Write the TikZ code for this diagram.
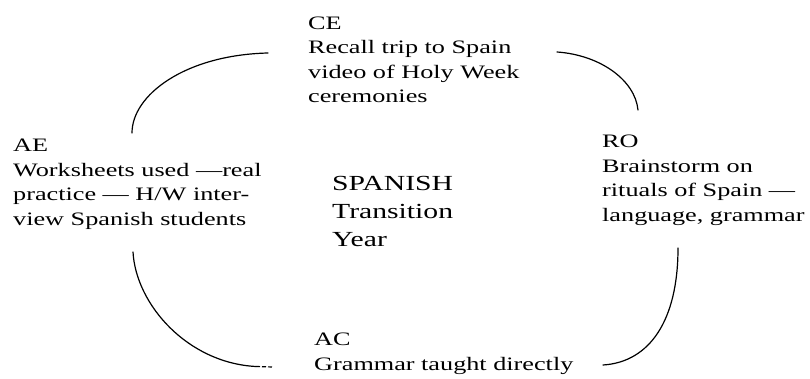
\documentclass[tikz,border=0pt]{standalone}
\usepackage{fontspec}
\setmainfont{Liberation Serif}[FakeStretch=1.38]
\newcommand{\bodyfont}{\fontsize{19}{24.5}\selectfont}
\newcommand{\titlefont}{\fontsize{21.5}{27.5}\selectfont}
\begin{document}
\begin{tikzpicture}[x=1pt,y=-1pt,
  blk/.style={anchor=base west, align=left, inner sep=0pt, font=\bodyfont},
  ttl/.style={anchor=base west, align=left, inner sep=0pt, font=\titlefont},
  arc/.style={line width=1.2pt, line cap=round}]
\useasboundingbox (0,0) rectangle (810,379);
% text blocks (anchor at baseline of the last line)
\node[blk] (ce) at (308,103) {CE\\Recall trip to Spain\\video of Holy Week\\ceremonies};
\node[blk] (ae) at (13,225.5) {AE\\Worksheets used ---real\\practice --- H/W inter-\\view Spanish students};
\node[blk] (ro) at (602,221.5) {RO\\Brainstorm on\\rituals of Spain ---\\language, grammar};
\node[blk] (ac) at (314,370) {AC\\Grammar taught directly};
\node[ttl] (mid) at (332,246) {SPANISH\\Transition\\Year};
% arc end points
\coordinate (tlA) at (132,133); \coordinate (tlB) at (268,53);
\coordinate (trA) at (557,52);  \coordinate (trB) at (638,110);
\coordinate (blA) at (133,252); \coordinate (blB) at (256,366.5); \coordinate (blC) at (273,367);
\coordinate (brA) at (678,248); \coordinate (brB) at (603,365);
% arcs
\draw[arc] (tlA) .. controls (132,95) and (185,55) .. (tlB);
\draw[arc] (trA) .. controls (600,55) and (635,80) .. (trB);
\draw[arc] (blA) .. controls (136,305) and (188,363) .. (blB);
\draw[line width=1.2pt, dash pattern=on 4pt off 2pt] (blB) -- (blC);
\draw[arc] (brA) .. controls (678,320) and (650,362) .. (brB);
\end{tikzpicture}
\end{document}
